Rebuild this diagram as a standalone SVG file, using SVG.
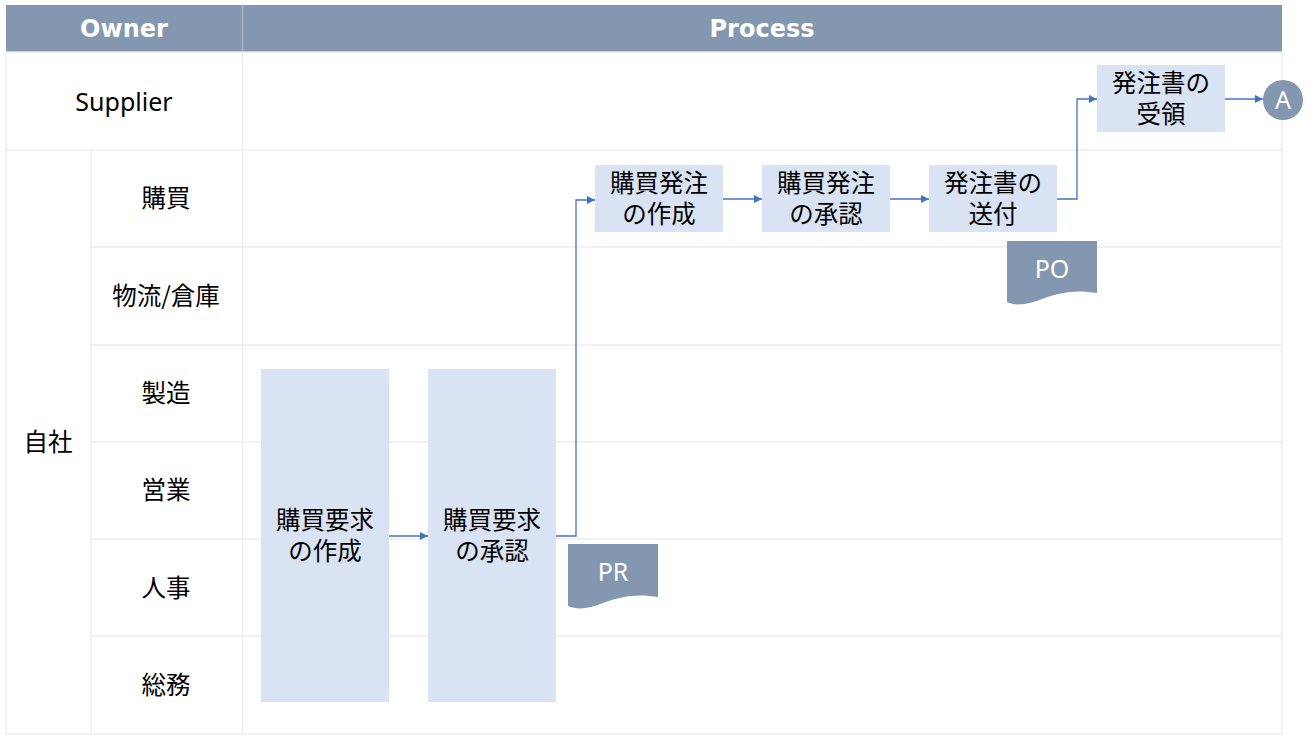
<svg xmlns="http://www.w3.org/2000/svg" width="1313" height="737" viewBox="0 0 1313 737">
<style>
.grid{stroke:#EDEDED;stroke-width:1.3;fill:none}
.hdr{fill:#8497B0}
.ht{font-family:"DejaVu Sans","Noto Sans",sans-serif;font-weight:bold;font-size:24px;fill:#fff;text-anchor:middle;dominant-baseline:central}
.lb{font-family:"Noto Sans CJK JP","Noto Sans",sans-serif;font-size:24.5px;fill:#000;text-anchor:middle;dominant-baseline:central}
.sp{font-family:"Noto Sans","Noto Sans CJK JP",sans-serif;font-size:25px;fill:#000;text-anchor:middle;dominant-baseline:central}
.box{fill:#DAE3F3}
.doc{fill:#8497B0}
.dt{font-family:"Noto Sans","Noto Sans CJK JP",sans-serif;font-size:25px;fill:#fff;text-anchor:middle;dominant-baseline:central}
.con{stroke:#4472C4;stroke-width:1.3;fill:none;marker-end:url(#ah)}
</style>
<defs>
<marker id="ah" viewBox="0 0 10 10" refX="10" refY="5" markerWidth="8" markerHeight="8" markerUnits="userSpaceOnUse" orient="auto">
<path d="M0,0 L10,5 L0,10 Z" fill="#4472C4"/>
</marker>
</defs>
<rect width="1313" height="737" fill="#fff"/>
<g id="table">
<rect class="hdr" x="6" y="5" width="1276" height="47"/>
<line x1="242.5" y1="5" x2="242.5" y2="52" stroke="#A9B6C9" stroke-width="1.5"/>
<text class="ht" x="124" y="29">Owner</text>
<text class="ht" x="762" y="29">Process</text>
<rect class="grid" x="6" y="52" width="1276" height="682"/>
<line class="grid" x1="242.5" y1="52" x2="242.5" y2="734"/>
<line class="grid" x1="91" y1="150" x2="91" y2="734"/>
<line class="grid" x1="6" y1="150" x2="1282" y2="150"/>
<line class="grid" x1="91" y1="247" x2="1282" y2="247"/>
<line class="grid" x1="91" y1="345" x2="1282" y2="345"/>
<line class="grid" x1="91" y1="442" x2="1282" y2="442"/>
<line class="grid" x1="91" y1="539" x2="1282" y2="539"/>
<line class="grid" x1="91" y1="636" x2="1282" y2="636"/>
<text class="sp" x="124" y="101">Supplier</text>
<text class="lb" x="48" y="440">自社</text>
<text class="lb" x="166" y="196">購買</text>
<text class="lb" x="166" y="294">物流/倉庫</text>
<text class="lb" x="166" y="391">製造</text>
<text class="lb" x="166" y="488">営業</text>
<text class="lb" x="166" y="586">人事</text>
<text class="lb" x="166" y="683">総務</text>
</g>
<g id="connectors">
<path class="con" d="M389,536 H428"/>
<path class="con" d="M556,536 H576 V200 H595"/>
<path class="con" d="M723,199 H762"/>
<path class="con" d="M890,199 H929"/>
<path class="con" d="M1057,199 H1077 V99 H1097"/>
<path class="con" d="M1225,99 H1263"/>
</g>
<g id="n1"><rect class="box" x="261" y="369" width="128" height="333"/><text class="lb" x="325" y="518">購買要求<tspan x="325" dy="31">の作成</tspan></text></g>
<g id="n2"><rect class="box" x="428" y="369" width="128" height="333"/><text class="lb" x="492" y="518">購買要求<tspan x="492" dy="31">の承認</tspan></text></g>
<g id="n3"><rect class="box" x="595" y="165" width="128" height="67"/><text class="lb" x="659" y="181">購買発注<tspan x="659" dy="31">の作成</tspan></text></g>
<g id="n4"><rect class="box" x="762" y="165" width="128" height="67"/><text class="lb" x="826" y="181">購買発注<tspan x="826" dy="31">の承認</tspan></text></g>
<g id="n5"><rect class="box" x="929" y="165" width="128" height="67"/><text class="lb" x="993" y="181">発注書の<tspan x="993" dy="31">送付</tspan></text></g>
<g id="n6"><rect class="box" x="1097" y="65" width="128" height="67"/><text class="lb" x="1161" y="81">発注書の<tspan x="1161" dy="31">受領</tspan></text></g>
<g id="nA"><circle cx="1283" cy="100" r="20" fill="#8497B0"/><text class="dt" x="1283" y="99" font-size="27">A</text></g>
<g id="docPO"><path class="doc" d="M1007,241 H1097 V293 C1075,289 1058,293 1042,299 C1028,305 1016,306 1007,302 Z"/><text class="dt" x="1052" y="268">PO</text></g>
<g id="docPR"><path class="doc" d="M568,544 H658 V597 C636,593 619,597 603,603 C589,609 577,610 568,606 Z"/><text class="dt" x="613" y="571">PR</text></g>
</svg>
